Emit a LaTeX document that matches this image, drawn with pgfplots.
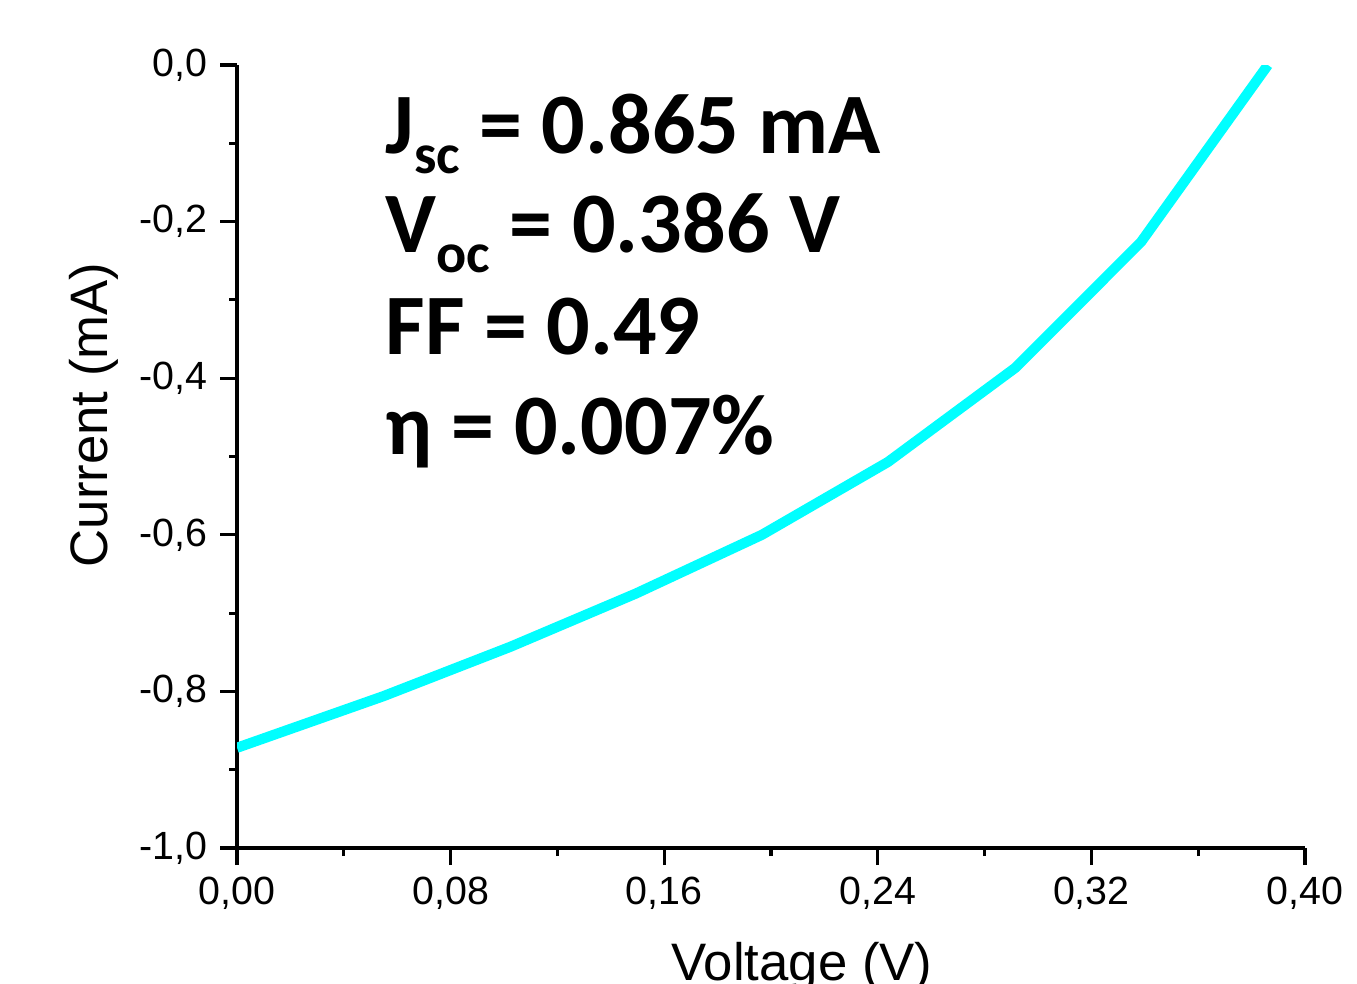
\documentclass[border=0pt]{standalone}
\usepackage{fontspec}
\setmainfont{Liberation Sans}
\newfontfamily\calib{Carlito}
\usepackage{pgfplots}
\pgfplotsset{compat=1.18}
\definecolor{ivcyan}{RGB}{0,255,255}

\newcommand{\ann}{\calib\bfseries\fontsize{24.5}{29}\selectfont}
\newcommand{\sub}[1]{\raisebox{-0.2cm}{\fontsize{16}{16}\selectfont #1}}

\begin{document}
\begin{tikzpicture}
\clip (0,0) rectangle (13.57,9.83);
\begin{axis}[
  at={(2.37cm,1.35cm)}, anchor=south west,
  scale only axis, width=10.68cm, height=7.83cm,
  xmin=0, xmax=0.40, ymin=-1.0, ymax=0,
  axis x line*=bottom, axis y line*=left,
  axis line style={line width=0.9pt, -},
  xtick={0,0.08,0.16,0.24,0.32,0.40},
  xticklabels={{0,00},{0,08},{0,16},{0,24},{0,32},{0,40}},
  minor xtick={0.04,0.12,0.2,0.28,0.36},
  ytick={-1,-0.8,-0.6,-0.4,-0.2,0},
  yticklabels={{-1,0},{-0,8},{-0,6},{-0,4},{-0,2},{0,0}},
  minor ytick={-0.9,-0.7,-0.5,-0.3,-0.1},
  tick align=outside,
  major tick length=0.17cm, minor tick length=0.08cm,
  every tick/.style={line width=0.9pt, black},
  tick label style={font=\fontsize{11.2}{13}\selectfont},
  xlabel={Voltage (V)},
  ylabel={Current (mA)},
  xlabel style={at={(axis description cs:0.529,-0.1686)}, anchor=base, font=\fontsize{15}{18}\selectfont},
  ylabel style={at={(axis description cs:-0.121,0.553)}, anchor=base, font=\fontsize{15}{18}\selectfont},
  clip mode=individual,
]
\addplot[ivcyan, line width=2.9pt, line join=round] coordinates {
  (0,-0.872) (0.0549,-0.806) (0.1024,-0.743) (0.1494,-0.675)
  (0.1966,-0.600) (0.2438,-0.507) (0.2914,-0.387) (0.3386,-0.226)
  (0.3861,0.0)
};
\node[anchor=base west, inner sep=0] at (axis cs:0.0554,-0.1124) {\ann J\sub{sc} = 0.865 mA};
\node[anchor=base west, inner sep=0] at (axis cs:0.0554,-0.240) {\ann V\sub{oc} = 0.386 V};
\node[anchor=base west, inner sep=0] at (axis cs:0.0554,-0.370) {\ann FF = 0.49};
\node[anchor=base west, inner sep=0] at (axis cs:0.0554,-0.498) {\ann η = 0.007\%};
\end{axis}
\end{tikzpicture}
\end{document}
